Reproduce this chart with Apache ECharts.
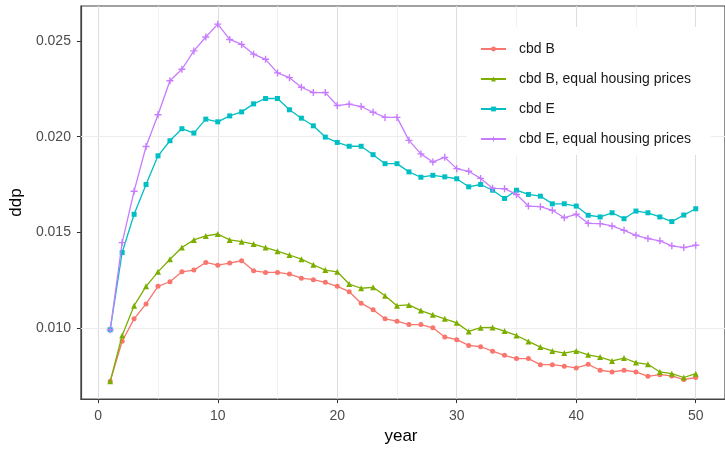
<!DOCTYPE html>
<html>
<head>
<meta charset="utf-8">
<script src="https://cdn.jsdelivr.net/npm/echarts@6/dist/echarts.min.js"></script>
<style>html,body{margin:0;padding:0;background:#fff;}#c{width:725px;height:450px;}</style>
</head>
<body>
<div id="c"></div>
<script>
const years = [1,2,3,4,5,6,7,8,9,10,11,12,13,14,15,16,17,18,19,20,21,22,23,24,25,26,27,28,29,30,31,32,33,34,35,36,37,38,39,40,41,42,43,44,45,46,47,48,49,50];
const cbdB = [0.0072,0.0093,0.01047,0.01125,0.01217,0.01241,0.01293,0.01302,0.01342,0.01328,0.01339,0.01351,0.01298,0.0129,0.0129,0.01281,0.0126,0.01252,0.01238,0.01217,0.01189,0.01129,0.01094,0.01047,0.01035,0.01017,0.01017,0.0100,0.00952,0.00938,0.00908,0.00901,0.00878,0.00856,0.00839,0.00839,0.00807,0.00807,0.00799,0.0079,0.00809,0.00778,0.00769,0.00778,0.00769,0.00746,0.00755,0.00748,0.00729,0.0074];
const cbdBeq = [0.0072,0.0096,0.01116,0.01217,0.01293,0.01359,0.0142,0.0146,0.01481,0.01491,0.0146,0.01451,0.01438,0.0142,0.01401,0.01381,0.01359,0.0133,0.01302,0.01293,0.01229,0.01207,0.01212,0.01168,0.01116,0.0112,0.0109,0.01068,0.01047,0.01026,0.00981,0.01001,0.01002,0.00983,0.0096,0.00929,0.00899,0.00879,0.00868,0.00879,0.00859,0.00847,0.00827,0.00842,0.00818,0.00809,0.00769,0.0076,0.0074,0.0076];
const cbdE = [0.0099,0.01394,0.01594,0.0175,0.0190,0.01979,0.02042,0.02019,0.02092,0.02078,0.02109,0.0213,0.02172,0.0220,0.0220,0.02141,0.02097,0.02057,0.01998,0.0197,0.0195,0.0195,0.01906,0.01859,0.01859,0.01816,0.01788,0.01798,0.0179,0.0178,0.01738,0.0175,0.0172,0.01677,0.0172,0.01698,0.01689,0.01649,0.01649,0.01637,0.01589,0.0158,0.01602,0.01571,0.01611,0.01602,0.0158,0.01556,0.0159,0.01623];
const cbdEeq = [0.0099,0.01446,0.01715,0.01949,0.02115,0.02293,0.02353,0.02449,0.02522,0.02589,0.02509,0.02483,0.02432,0.02405,0.02334,0.02309,0.02259,0.02231,0.02231,0.02163,0.0217,0.02158,0.02128,0.02101,0.02101,0.01981,0.0191,0.01868,0.01892,0.01833,0.01819,0.01782,0.0173,0.01728,0.01698,0.01637,0.01634,0.01615,0.01576,0.01594,0.01547,0.01545,0.01533,0.0151,0.01484,0.01467,0.01455,0.01429,0.0142,0.01432];
const seriesNames = ['cbd B','cbd B, equal housing prices','cbd E','cbd E, equal housing prices'];
const xTicks = [0,10,20,30,40,50];
const xMinor = [5,15,25,35,45];
const yTicks = [0.010,0.015,0.020,0.025];
const yMinor = [0.0075,0.0125,0.0175,0.0225];

const colors = ['#F8766D','#7CAE00','#00BFC4','#C77CFF'];
const plusPath = 'path://M4,0h2v4h4v2h-4v4h-2v-4h-4v-2h4z';
const symbols = ['circle','triangle','rect',plusPath];
const symSizes = [5,6,5,7];
const allData = [cbdB,cbdBeq,cbdE,cbdEeq];

const gridLines = [];
xTicks.forEach(v => gridLines.push({xAxis: v, lineStyle:{color:'#dedede', width:1, type:'solid'}}));
xMinor.forEach(v => gridLines.push({xAxis: v, lineStyle:{color:'#ededed', width:0.8, type:'solid'}}));
yTicks.forEach(v => gridLines.push({yAxis: v, lineStyle:{color:'#dedede', width:1, type:'solid'}}));
yMinor.forEach(v => gridLines.push({yAxis: v, lineStyle:{color:'#ededed', width:0.8, type:'solid'}}));

const series = [{
  type:'line', name:'_grid', data:[], silent:true, z:1,
  markLine:{z:1, silent:true, symbol:['none','none'], label:{show:false}, animation:false, data:gridLines}
}];
allData.forEach((arr, i) => {
  series.push({
    type:'line', name: seriesNames[i],
    data: years.map((y, j) => [y, arr[j]]),
    symbol: symbols[i], symbolSize: symSizes[i], showAllSymbol:true,
    lineStyle:{color:colors[i], width:1.3},
    itemStyle:{color:colors[i]},
    z: 2 + i*0.1
  });
});

const font = 'Liberation Sans, Arial, sans-serif';
const chart = echarts.init(document.getElementById('c'), null, {renderer:'canvas'});
chart.setOption({
  animation:false,
  backgroundColor:'#fff',
  grid:{left:80, top:6, right:-9, bottom:50, show:true, borderColor:'#444', borderWidth:1.2, backgroundColor:'#fff'},
  legend:{
    data: seriesNames, orient:'vertical', left:467, top:27, z:10,
    backgroundColor:'#fff', padding:[14,20,8,13],
    itemWidth:25, itemHeight:6, itemGap:14,
    textStyle:{fontFamily:font, fontSize:14, color:'#1a1a1a', lineHeight:16, padding:[0,0,0,8]}
  },
  xAxis:{
    type:'value', min:-1.45, max:52.45,
    name:'year', nameLocation:'middle', nameGap:28,
    nameTextStyle:{fontFamily:font, fontSize:17, color:'#000', padding:[0,4,0,0]},
    axisLine:{show:true, onZero:false, lineStyle:{color:'#444', width:1.2}},
    axisTick:{show:true, inside:false, customValues:xTicks, length:4, lineStyle:{color:'#333', width:1}},
    axisLabel:{customValues:xTicks, margin:10, fontFamily:font, fontSize:14, color:'#4d4d4d'},
    splitLine:{show:false}
  },
  yAxis:{
    type:'value', min:0.00627, max:0.02684,
    name:'ddp', nameLocation:'middle', nameGap:55, nameRotate:90,
    nameTextStyle:{fontFamily:font, fontSize:17, color:'#000'},
    axisLine:{show:true, onZero:false, lineStyle:{color:'#444', width:1.2}},
    axisTick:{show:true, inside:false, customValues:yTicks, length:4, lineStyle:{color:'#333', width:1}},
    axisLabel:{customValues:yTicks, margin:10, fontFamily:font, fontSize:14, color:'#4d4d4d',
      formatter: v => v.toFixed(3)},
    splitLine:{show:false}
  },
  series: series
});
</script>
</body>
</html>
